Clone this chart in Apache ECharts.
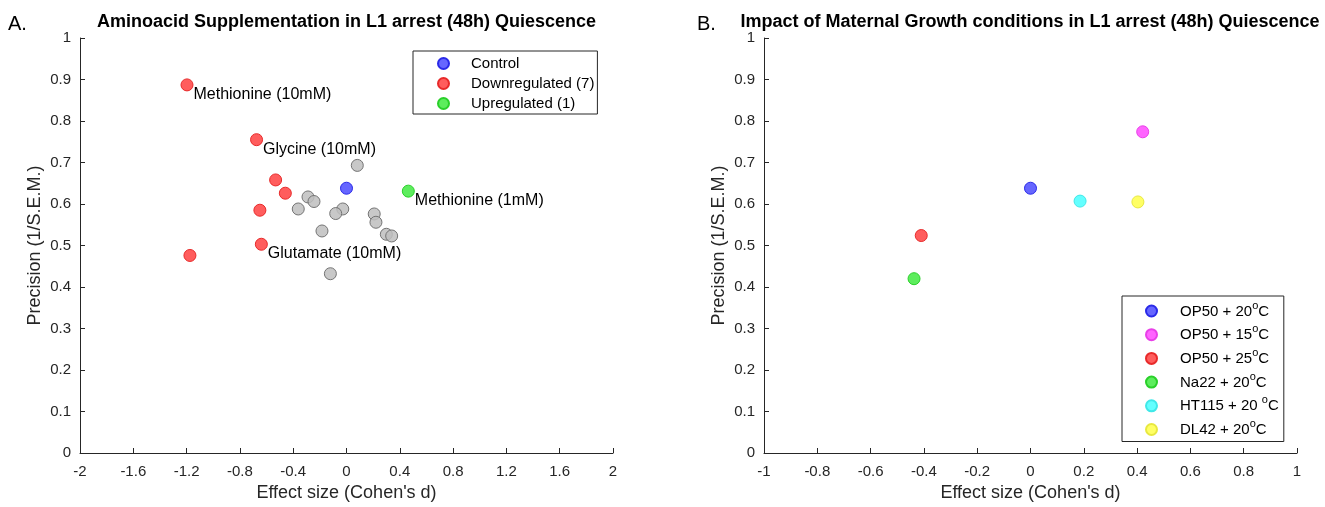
<!DOCTYPE html>
<html>
<head>
<meta charset="utf-8">
<script src="https://cdn.jsdelivr.net/npm/echarts@6/dist/echarts.min.js"></script>
<style>
  html, body { margin: 0; padding: 0; background: #fff; }
  #chart { width: 1325px; height: 507px; }
</style>
</head>
<body>
<div id="chart"></div>
<script>
// Panel A: aminoacid supplementation, points are [Cohen's d, 1/S.E.M.]
const controlA = [[0.0, 0.638]];
const downA = [[-1.197, 0.887], [-0.675, 0.755], [-0.532, 0.658], [-0.459, 0.626],
               [-0.650, 0.585], [-0.639, 0.503], [-1.175, 0.476]];
const downLabelsA = ['Methionine (10mM)', 'Glycine (10mM)', '', '', '', 'Glutamate (10mM)', ''];
const upA = [[0.464, 0.631]];
const upLabelsA = ['Methionine (1mM)'];
const neutralA = [[0.081, 0.693], [-0.289, 0.617], [-0.244, 0.606], [-0.362, 0.588],
                  [-0.028, 0.588], [-0.081, 0.577], [0.208, 0.576], [0.221, 0.556],
                  [-0.184, 0.535], [0.299, 0.527], [0.339, 0.523], [-0.121, 0.432]];
const legendA = ['Control', 'Downregulated (7)', 'Upregulated (1)'];

// Panel B: maternal growth conditions
const conditionsB = ['OP50 + 20°C', 'OP50 + 15°C', 'OP50 + 25°C', 'Na22 + 20°C', 'HT115 + 20 °C', 'DL42 + 20°C'];
const valuesB = [[0.0, 0.638], [0.421, 0.774], [-0.410, 0.524], [-0.437, 0.420], [0.186, 0.607], [0.403, 0.605]];

// Tick settings
const xTicksA = { min: -2, max: 2, interval: 0.4 };
const xTicksB = { min: -1, max: 1, interval: 0.2 };
const yTicks = { min: 0, max: 1, interval: 0.1 };

const ink = '#262626';
const font = 'Liberation Sans, Arial, Helvetica, sans-serif';

const styles = {
  blue:    { color: 'rgba(30,30,255,0.68)',  borderColor: '#2a2ae8' },
  red:     { color: 'rgba(255,30,30,0.72)',  borderColor: '#e82a2a' },
  green:   { color: 'rgba(30,230,30,0.72)',  borderColor: '#2ad02a' },
  gray:    { color: 'rgba(190,190,190,0.85)', borderColor: '#747474' },
  magenta: { color: 'rgba(255,40,255,0.72)', borderColor: '#e840e8' },
  cyan:    { color: 'rgba(40,255,255,0.72)', borderColor: '#40e8e8' },
  yellow:  { color: 'rgba(255,255,40,0.72)', borderColor: '#e8e840' }
};
const colorsB = ['blue', 'magenta', 'red', 'green', 'cyan', 'yellow'];

function xAxis(gridIndex, t) {
  return {
    type: 'value', gridIndex, min: t.min, max: t.max, interval: t.interval,
    name: "Effect size (Cohen's d)", nameLocation: 'middle', nameGap: 31,
    nameTextStyle: { color: ink, fontSize: 18, fontFamily: font },
    axisLine: { show: true, onZero: false, lineStyle: { color: ink, width: 1 } },
    axisTick: { show: true, inside: true, length: 5, lineStyle: { color: ink } },
    axisLabel: { color: ink, fontSize: 15, fontFamily: font, margin: 11 },
    splitLine: { show: false }
  };
}
function yAxis(gridIndex) {
  return {
    type: 'value', gridIndex, min: yTicks.min, max: yTicks.max, interval: yTicks.interval,
    name: 'Precision (1/S.E.M.)', nameLocation: 'middle', nameGap: 36,
    nameTextStyle: { color: ink, fontSize: 18, fontFamily: font },
    axisLine: { show: true, onZero: false, lineStyle: { color: ink, width: 1 } },
    axisTick: { show: true, inside: true, length: 5, lineStyle: { color: ink } },
    axisLabel: { color: ink, fontSize: 15, fontFamily: font, margin: 9 },
    splitLine: { show: false }
  };
}

const pointLabel = {
  show: true, position: [13, 8], color: '#000', fontSize: 16, fontFamily: font,
  align: 'left', verticalAlign: 'top'
};

function scatter(name, data, style, xi, labels) {
  return {
    name, type: 'scatter', xAxisIndex: xi, yAxisIndex: xi,
    symbol: 'circle', symbolSize: 12,
    itemStyle: { color: style.color, borderColor: style.borderColor, borderWidth: 1, opacity: 1 },
    emphasis: { disabled: true },
    data: data.map((v, i) => {
      const item = { value: v };
      if (labels && labels[i]) item.label = Object.assign({ formatter: labels[i] }, pointLabel);
      return item;
    }),
    z: 3
  };
}

const series = [
  Object.assign(scatter('neutral', neutralA, styles.gray, 0), { z: 2 }),
  scatter('Control', controlA, styles.blue, 0),
  scatter('Downregulated (7)', downA, styles.red, 0, downLabelsA),
  scatter('Upregulated (1)', upA, styles.green, 0, upLabelsA)
];
conditionsB.forEach((name, i) => {
  series.push(scatter(name, [valuesB[i]], styles[colorsB[i]], 1));
});

const chart = echarts.init(document.getElementById('chart'), null, { renderer: 'canvas' });
chart.setOption({
  animation: false,
  backgroundColor: '#fff',
  textStyle: { fontFamily: font },
  grid: [
    { left: 80, right: 712, top: 38, bottom: 52 },
    { left: 764, right: 28, top: 38, bottom: 52 }
  ],
  xAxis: [xAxis(0, xTicksA), xAxis(1, xTicksB)],
  yAxis: [yAxis(0), yAxis(1)],
  legend: [
    {
      data: legendA, orient: 'vertical', left: 413, top: 51,
      padding: [5, 3, 3, 24], itemGap: 5, itemWidth: 11, itemHeight: 11,
      borderColor: '#262626', borderWidth: 1, backgroundColor: '#fff',
      selectedMode: false, icon: 'circle',
      textStyle: { color: '#000', fontSize: 15, fontFamily: font, lineHeight: 15, padding: [0, 0, 0, 17] }
    },
    {
      data: conditionsB, orient: 'vertical', left: 1122, top: 296,
      padding: [4, 5, 4, 23], itemGap: 4.7, itemWidth: 11, itemHeight: 11,
      borderColor: '#262626', borderWidth: 1, backgroundColor: '#fff',
      selectedMode: false, icon: 'circle',
      formatter: name => '{t|' + name.replace('°C', '') + '}{s|o}{t|C}',
      textStyle: {
        color: '#000', fontSize: 15, fontFamily: font, lineHeight: 16, padding: [0, 0, 0, 18],
        rich: {
          t: { fontSize: 15, fontFamily: font, color: '#000', lineHeight: 16, verticalAlign: 'bottom' },
          s: { fontSize: 11, fontFamily: font, color: '#000', lineHeight: 16, verticalAlign: 'bottom', padding: [0, 0, 8, 0] }
        }
      }
    }
  ],
  graphic: [
    { type: 'text', left: 8, top: 14, style: { text: 'A.', fontSize: 20, fontFamily: font, fill: '#000' } },
    { type: 'text', left: 697, top: 14, style: { text: 'B.', fontSize: 20, fontFamily: font, fill: '#000' } },
    { type: 'text', x: 346.5, y: 22, style: { text: 'Aminoacid Supplementation in L1 arrest (48h) Quiescence',
        fontSize: 18, fontWeight: 'bold', fontFamily: font, fill: '#000', align: 'center', verticalAlign: 'middle' } },
    { type: 'text', x: 1030, y: 22, style: { text: 'Impact of Maternal Growth conditions in L1 arrest (48h) Quiescence',
        fontSize: 18, fontWeight: 'bold', fontFamily: font, fill: '#000', align: 'center', verticalAlign: 'middle' } }
  ],
  series
});
</script>
</body>
</html>
